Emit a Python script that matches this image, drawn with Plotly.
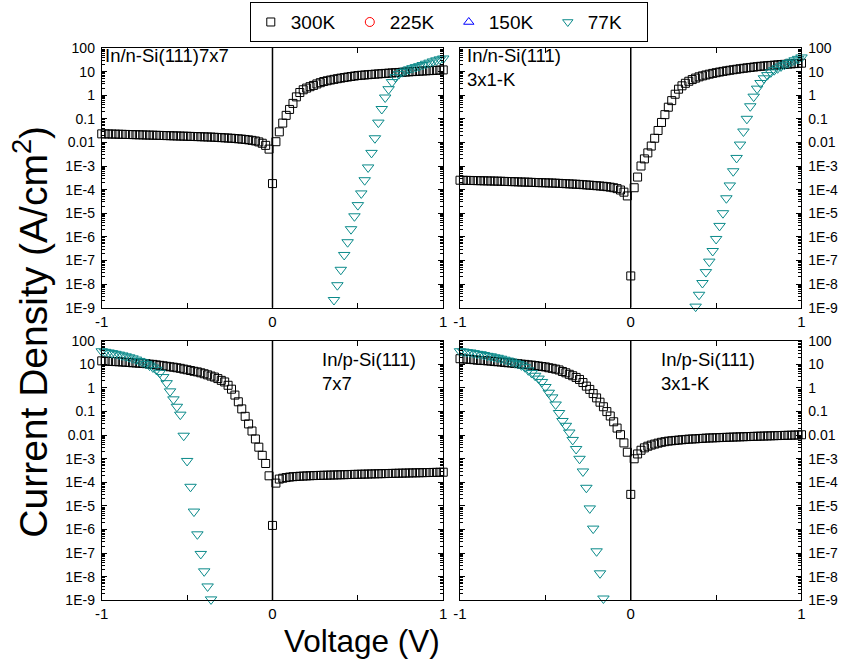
import numpy as np
import plotly.graph_objects as go

def vgrid(a, b):
    n = int(round((b - a) / 0.02)) + 1
    return np.round(np.linspace(a, b, n), 2)

# ---------------- data (current density, A/cm^2) ----------------
# voltage grids
V_300 = vgrid(-1.0, 1.0)            # 300K, all panels
V77_p1 = vgrid(0.36, 1.0)
V77_p2 = vgrid(0.38, 1.0)
V77_p3 = vgrid(-1.0, -0.36)
V77_p4 = vgrid(-1.0, -0.16)

# Panel 1: In/n-Si(111)7x7
p1_300 = [0.023, 0.023, 0.0228, 0.0226, 0.0224, 0.0222, 0.022, 0.0218, 0.0216, 0.0214,
          0.0212, 0.021, 0.0208, 0.0206, 0.0204, 0.0202, 0.02, 0.0198, 0.0196, 0.0194,
          0.0192, 0.019, 0.0188, 0.0186, 0.0184, 0.0182, 0.018, 0.0178, 0.0176, 0.0174,
          0.0172, 0.017, 0.0168, 0.0165, 0.0162, 0.0159, 0.0156, 0.0153, 0.015, 0.0146,
          0.0142, 0.0138, 0.0133, 0.0128, 0.0122, 0.0115, 0.0105, 0.0092, 0.0075, 0.0052,
          1.8e-4,
          0.0107, 0.028, 0.066, 0.14, 0.25, 0.45, 0.85, 1.3, 1.7, 2.0,
          2.3, 2.6, 3.0, 3.4, 3.8, 4.1, 4.4, 4.7, 5.0, 5.3,
          5.6, 5.9, 6.2, 6.5, 6.8, 7.0, 7.2, 7.4, 7.6, 7.8,
          8.0, 8.2, 8.4, 8.6, 8.8, 9.0, 9.2, 9.4, 9.6, 9.8,
          10.0, 10.2, 10.4, 10.6, 10.8, 11.0, 11.2, 11.4, 11.6, 11.8]
p1_77 = [2.1e-9, 8.9e-9, 4e-8, 1.7e-7, 5.9e-7, 2.1e-6, 7.4e-6, 2.2e-5, 6.9e-5, 2.5e-4,
         8.7e-4, 3.6e-3, 0.015, 0.069, 0.26, 0.8, 1.8, 3.6, 5.8, 7.8,
         9.5, 11, 12.5, 14, 15.5, 17, 19, 21.5, 24, 27,
         30, 33, 36]

# Panel 2: In/n-Si(111) 3x1-K
p2_300 = [2.5e-4, 2.48e-4, 2.46e-4, 2.44e-4, 2.42e-4, 2.4e-4, 2.38e-4, 2.36e-4, 2.34e-4, 2.32e-4,
          2.3e-4, 2.28e-4, 2.26e-4, 2.23e-4, 2.2e-4, 2.18e-4, 2.16e-4, 2.13e-4, 2.1e-4, 2.08e-4,
          2.06e-4, 2.03e-4, 2.0e-4, 1.98e-4, 1.96e-4, 1.94e-4, 1.92e-4, 1.9e-4, 1.87e-4, 1.84e-4,
          1.81e-4, 1.78e-4, 1.75e-4, 1.72e-4, 1.69e-4, 1.66e-4, 1.62e-4, 1.58e-4, 1.54e-4, 1.5e-4,
          1.46e-4, 1.42e-4, 1.38e-4, 1.33e-4, 1.27e-4, 1.2e-4, 1.1e-4, 9.6e-5, 7.8e-5, 5.4e-5,
          2.2e-8,
          1.2e-4, 3.4e-4, 1.0e-3, 2.0e-3, 3.6e-3, 7e-3, 0.015, 0.032, 0.07, 0.15,
          0.31, 0.59, 1.1, 1.8, 2.5, 3.2, 3.9, 4.6, 5.3, 6.0,
          6.6, 7.2, 7.8, 8.4, 9.0, 9.6, 10.2, 10.8, 11.4, 12.0,
          12.6, 13.2, 13.8, 14.4, 15.0, 15.6, 16.2, 16.8, 17.3, 17.8,
          18.3, 18.8, 19.3, 19.8, 20.3, 20.8, 21.3, 21.8, 22.3, 22.8]
p2_77 = [1.1e-9, 3.5e-9, 1.1e-8, 3.2e-8, 8.9e-8, 2.5e-7, 8.1e-7, 2.9e-6, 1.0e-5, 4.3e-5,
         1.5e-4, 6.0e-4, 2.2e-3, 8.1e-3, 0.029, 0.10, 0.34, 0.87, 1.9, 3.3,
         5.2, 7.1, 9.3, 11.5, 13.8, 16.6, 19.5, 22.9, 26.3, 30.2,
         34.7, 39.8]

# Panel 3: In/p-Si(111) 7x7
p3_300 = [14.1, 13.8, 13.5, 13.3, 13.1, 12.9, 12.6, 12.3, 12.0, 11.7,
          11.5, 11.2, 11.0, 10.7, 10.2, 10.0, 9.5, 9.1, 8.7, 8.3,
          7.9, 7.6, 7.2, 6.8, 6.3, 5.9, 5.5, 5.1, 4.8, 4.4,
          4.0, 3.6, 3.2, 2.9, 2.5, 2.1, 1.8, 1.3, 0.89, 0.5,
          0.26, 0.13, 0.063, 0.03, 0.015, 0.0069, 0.0031, 0.0014, 6.3e-4, 1.9e-4,
          1.5e-6,
          9.3e-5, 1.38e-4, 1.5e-4, 1.6e-4, 1.68e-4, 1.74e-4, 1.78e-4, 1.82e-4, 1.85e-4, 1.88e-4,
          1.91e-4, 1.94e-4, 1.96e-4, 1.98e-4, 2.0e-4, 2.02e-4, 2.04e-4, 2.06e-4, 2.08e-4, 2.1e-4,
          2.12e-4, 2.14e-4, 2.16e-4, 2.18e-4, 2.2e-4, 2.22e-4, 2.24e-4, 2.26e-4, 2.28e-4, 2.3e-4,
          2.32e-4, 2.34e-4, 2.36e-4, 2.38e-4, 2.4e-4, 2.42e-4, 2.44e-4, 2.46e-4, 2.48e-4, 2.5e-4,
          2.52e-4, 2.54e-4, 2.56e-4, 2.58e-4, 2.6e-4, 2.62e-4, 2.64e-4, 2.66e-4, 2.68e-4, 2.7e-4]
p3_77 = [36, 34, 32, 30, 28, 26, 24, 22, 20, 18,
         16, 14, 12.3, 10.5, 8.9, 7.4, 5.9, 4.4, 2.9, 1.6,
         0.72, 0.33, 0.16, 0.074, 9.5e-3, 8.1e-4, 6.5e-5, 5.8e-6, 6.3e-7, 9.3e-8,
         1.7e-8, 3.9e-9, 1.1e-9]

# Panel 4: In/p-Si(111) 3x1-K
p4_300 = [17.4, 17.0, 16.6, 16.2, 15.8, 15.1, 14.8, 14.5, 14.1, 13.8,
          13.2, 12.9, 12.6, 12.0, 11.7, 11.5, 11.0, 10.7, 10.2, 10.0,
          9.5, 9.3, 8.9, 8.5, 8.1, 7.8, 7.2, 6.8, 6.3, 5.8,
          5.0, 4.4, 3.8, 3.3, 2.8, 2.3, 1.7, 1.2, 0.87, 0.58,
          0.38, 0.25, 0.16, 0.10, 0.065, 0.037, 0.02, 0.0105, 4.7e-3, 1.9e-3,
          3.1e-5,
          1.0e-3, 1.6e-3, 2.3e-3, 2.9e-3, 3.4e-3, 3.8e-3, 4.2e-3, 4.6e-3, 5.0e-3, 5.3e-3,
          5.6e-3, 5.8e-3, 6.0e-3, 6.2e-3, 6.4e-3, 6.6e-3, 6.8e-3, 6.9e-3, 7.0e-3, 7.2e-3,
          7.3e-3, 7.5e-3, 7.6e-3, 7.7e-3, 7.8e-3, 7.9e-3, 8.0e-3, 8.1e-3, 8.2e-3, 8.3e-3,
          8.4e-3, 8.5e-3, 8.6e-3, 8.7e-3, 8.8e-3, 8.9e-3, 9.0e-3, 9.1e-3, 9.2e-3, 9.3e-3,
          9.4e-3, 9.5e-3, 9.6e-3, 9.7e-3, 9.8e-3, 9.9e-3, 1.0e-2, 1.01e-2, 1.02e-2, 1.04e-2]
p4_77 = [36, 35, 33, 32, 30, 28, 27, 25, 23, 22,
         20, 19, 17.4, 15.8, 14.5, 13.2, 11.7, 10.5, 9.1, 7.6,
         5.6, 4.3, 3.3, 2.5, 1.8, 1.1, 0.63, 0.4, 0.2, 0.087,
         0.04, 0.025, 0.013, 6.3e-3, 2.6e-3, 1.0e-3, 2.9e-4, 5.9e-5, 7.9e-6, 1.1e-6,
         1.2e-7, 1.4e-8, 1.2e-9]

panel_labels = ["In/n-Si(111)7x7", "In/n-Si(111)<br>3x1-K",
                "In/p-Si(111)<br>7x7", "In/p-Si(111)<br>3x1-K"]
series_names = ["300K", "225K", "150K", "77K"]
y_tickvals = [1e-9, 1e-8, 1e-7, 1e-6, 1e-5, 1e-4, 1e-3, 0.01, 0.1, 1, 10, 100]
y_ticktext = ["1E-9", "1E-8", "1E-7", "1E-6", "1E-5", "1E-4", "1E-3",
              "0.01", "0.1", "1", "10", "100"]
x_tickvals = [-1, -0.5, 0, 0.5, 1]
x_ticktext = ["-1", "", "0", "", "1"]

# ---------------- styling / layout ----------------
W, H = 843, 664
def px(x): return x / W
def py(y): return 1 - y / H

C300 = "black"
C225 = "red"
C150 = "blue"
C77 = "#0a8a8a"
FONT = "Liberation Sans, Arial, sans-serif"

# panel pixel boxes: (left, right, top, bottom), y-label side
boxes = [(96, 442, 41, 307, "left"), (459, 805, 41, 307, "right"),
         (96, 442, 341, 607, "left"), (459, 805, 341, 607, "right")]
label_pos = [(97, 36), (464, 36), (317, 347), (661, 347)]

data300 = [p1_300, p2_300, p3_300, p4_300]
V77s = [V77_p1, V77_p2, V77_p3, V77_p4]
data77 = [p1_77, p2_77, p3_77, p4_77]

for d, v in zip(data77, V77s):
    assert len(d) == len(v), (len(d), len(v))
for d in data300:
    assert len(d) == len(V_300)

fig = go.Figure()
minor_vals = [m * 10.0 ** k for k in range(-9, 2) for m in range(2, 10)]

layout_axes = {}
for i, (l, r, t, b, side) in enumerate(boxes):
    n = i + 1
    xa = "x" if n == 1 else f"x{n}"
    ya = "y" if n == 1 else f"y{n}"
    fig.add_trace(go.Scatter(
        x=V_300, y=data300[i], mode="markers", name="300K",
        showlegend=(i == 0), cliponaxis=False, legendrank=1,
        marker=dict(symbol="square-open", size=8, color=C300, line=dict(width=1, color=C300)),
        xaxis=xa, yaxis=ya))
    fig.add_trace(go.Scatter(
        x=V77s[i], y=data77[i], mode="markers", name="77K",
        showlegend=False, cliponaxis=False,
        marker=dict(symbol="triangle-down-open", size=10, color=C77, line=dict(width=1, color=C77)),
        xaxis=xa, yaxis=ya))
    layout_axes["xaxis" if n == 1 else f"xaxis{n}"] = dict(
        domain=[px(l), px(r)], anchor=ya, range=[-1, 1],
        tickmode="array", tickvals=x_tickvals, ticktext=x_ticktext,
        ticks="inside", ticklen=5, tickwidth=1, tickcolor="black",
        showline=True, linecolor="black", linewidth=1, mirror="allticks",
        showgrid=False, zeroline=False,
        tickfont=dict(size=15, color="black", family=FONT))
    layout_axes["yaxis" if n == 1 else f"yaxis{n}"] = dict(
        domain=[py(b), py(t)], anchor=xa, type="log", range=[-9, 2],
        side=side, tickmode="array", tickvals=y_tickvals, ticktext=y_ticktext,
        ticks="inside", ticklen=5, tickwidth=1, tickcolor="black",
        ticklabelstandoff=3,
        minor=dict(tickmode="array", tickvals=minor_vals, ticks="inside",
                   ticklen=3, tickcolor="black", showgrid=False),
        showline=True, linecolor="black", linewidth=1, mirror="allticks",
        showgrid=False, zeroline=False,
        tickfont=dict(size=14, color="black", family=FONT))
    fig.add_shape(type="line", xref=xa, yref=f"{ya} domain", x0=0, x1=0, y0=0, y1=1,
                  line=dict(color="black", width=1.5))
    lx, ly = label_pos[i]
    fig.add_annotation(x=px(lx), y=py(ly), xref="paper", yref="paper",
                       xanchor="left", yanchor="top", align="left", showarrow=False,
                       text=panel_labels[i], font=dict(size=18.5, color="black", family=FONT))

# legend-only entries for 225K and 150K (same order as reference legend)
fig.add_trace(go.Scatter(x=[None], y=[None], mode="markers", name="225K", legendrank=2,
                         marker=dict(symbol="circle-open", size=9, color=C225)))
fig.add_trace(go.Scatter(x=[None], y=[None], mode="markers", name="150K", legendrank=3,
                         marker=dict(symbol="triangle-up-open", size=9, color=C150)))
fig.add_trace(go.Scatter(x=[None], y=[None], mode="markers", name="77K", legendrank=4,
                         marker=dict(symbol="triangle-down-open", size=9, color=C77)))

fig.add_annotation(x=px(23), y=py(332), xref="paper", yref="paper", showarrow=False,
                   xanchor="center", yanchor="middle",
                   text="Current Density (A/cm<sup>2</sup>)", textangle=-90,
                   font=dict(size=39, color="black", family=FONT))
fig.add_annotation(x=px(360), y=py(649), xref="paper", yref="paper", showarrow=False,
                   xanchor="center", yanchor="middle",
                   text="Voltage (V)", font=dict(size=31.5, color="black", family=FONT))

fig.update_layout(
    width=W, height=H, margin=dict(l=0, r=0, t=0, b=0),
    paper_bgcolor="white", plot_bgcolor="white",
    font=dict(family=FONT, color="black"),
    showlegend=True,
    legend=dict(orientation="h", x=px(246), y=py(-6), xanchor="left", yanchor="top",
                bordercolor="black", borderwidth=1, bgcolor="white",
                tracegroupgap=0,
                font=dict(size=19, color="black", family=FONT),
                entrywidth=54, entrywidthmode="pixels"),
    **layout_axes)

fig.write_html("out.html")
